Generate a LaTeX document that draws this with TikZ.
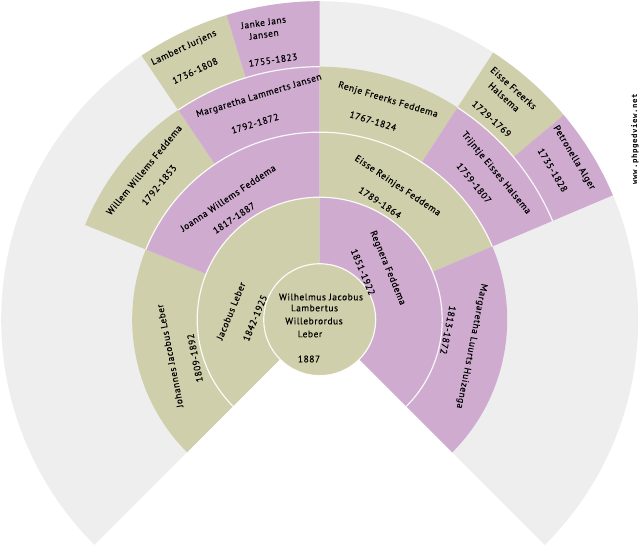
\documentclass[tikz,border=0pt]{standalone}
\usepackage{fontspec}
\setmainfont[LetterSpace=6,FakeBold=0.25]{PT Sans}
\newfontfamily\wmfont[LetterSpace=8]{DejaVu Sans Mono}
\definecolor{khaki}{HTML}{D0CFAB}
\definecolor{mauve}{HTML}{CFABD0}
\definecolor{ashgrey}{HTML}{EEEEEE}
\newcommand{\wedgeSeg}[5]{% colour, r1, r2, a, b
  \fill[#1] (#4:#2pt) arc[start angle=#4,end angle=#5,radius=#2pt] -- (#5:#3pt) arc[start angle=#5,end angle=#4,radius=#3pt] -- cycle;}
\newcommand{\rimArc}[3]{\draw[rim] (#2:#1pt) arc[start angle=#2,end angle=#3,radius=#1pt];}
\newcommand{\lbl}[5]{\node[lab,rotate=#4] (#1) at (#2pt-320pt,320pt-#3pt) {#5};}
\tikzset{
  lab/.style={font=\fontsize{9.4}{10}\selectfont,text=black,inner sep=0pt,anchor=center},
  rim/.style={draw=white,line width=1.2pt,opacity=.9},
}
\begin{document}
\begin{tikzpicture}[x=1pt,y=1pt]
\useasboundingbox (-320pt,-230pt) rectangle (320pt,320pt);
\clip (-320pt,-230pt) rectangle (320pt,320pt);
\begin{scope}[shift={(-0.3pt,0.3pt)}]
% grey background fan
\wedgeSeg{ashgrey}{56}{318.5}{-45}{225}
% generation 1
\wedgeSeg{khaki}{56}{122.5}{90}{225}
\wedgeSeg{mauve}{56}{122.5}{-45}{90}
% generation 2
\wedgeSeg{khaki}{122.5}{187.5}{158}{225}
\wedgeSeg{mauve}{122.5}{187.5}{90}{158}
\wedgeSeg{khaki}{122.5}{187.5}{23}{90}
\wedgeSeg{mauve}{122.5}{187.5}{-45}{23}
% generation 3
\wedgeSeg{khaki}{187.5}{253}{124}{158}
\wedgeSeg{mauve}{187.5}{253}{90}{124}
\wedgeSeg{khaki}{187.5}{253}{57}{90}
\wedgeSeg{mauve}{187.5}{253}{23}{57}
% generation 4
\wedgeSeg{khaki}{253}{318.5}{107}{124}
\wedgeSeg{mauve}{253}{318.5}{90}{107}
\wedgeSeg{khaki}{253}{318.5}{40}{57}
\wedgeSeg{mauve}{253}{318.5}{23}{40}
% centre
\fill[khaki] (0,0) circle[radius=56pt];
\draw[rim] (0,0) circle[radius=56pt];
% separators
\rimArc{122.5}{-45}{225}
\rimArc{187.5}{23}{158}
\rimArc{253}{90}{124}
\rimArc{253}{23}{57}
\end{scope}
% centre text
\lbl{w1}{321}{297}{0}{Wilhelmus Jacobus}
\lbl{w2}{314.5}{308}{0}{Lambertus}
\lbl{w3}{314}{321}{0}{Willebrordus}
\lbl{w4}{310}{334}{0}{Leber}
\lbl{w5}{309}{359}{0}{1887}
% gen 1
\lbl{jl}{231}{311}{67.5}{Jacobus Leber}
\lbl{jld}{255}{318}{67.5}{1842-1925}
\lbl{rf}{387.5}{268}{-67.5}{Regnera Feddema}
\lbl{rfd}{363}{272}{-67.5}{1851-1922}
% gen 2
\lbl{jj}{170}{356}{101.25}{Johannes Jacobus Leber}
\lbl{jjd}{195}{358}{101.25}{1809-1892}
\lbl{jw}{228}{198}{33.75}{Joanna Willems Feddema}
\lbl{jwd}{234}{218}{33.75}{1817-1887}
\lbl{er}{397.5}{186}{-33.75}{Eisse Reinjes Feddema}
\lbl{erd}{380}{202.5}{-33.75}{1789-1864}
\lbl{ml}{471.5}{346}{-101.25}{Margaretha Luurts Huizenga}
\lbl{mld}{448}{330}{-101.25}{1813-1872}
% gen 3
\lbl{ww}{144}{170}{50.625}{Willem Willems Feddema}
\lbl{wwd}{159}{185}{50.625}{1792-1853}
\lbl{mj}{259}{96}{16.875}{Margaretha Lammerts Jansen}
\lbl{mjd}{255}{123.5}{16.875}{1792-1872}
\lbl{rj}{388}{100}{-16.875}{Renje Freerks Feddema}
\lbl{rjd}{373}{121}{-16.875}{1767-1824}
\lbl{te}{496}{173}{-50.625}{Trijntje Eisses Halsema}
\lbl{ted}{474}{183}{-50.625}{1759-1807}
% gen 4
\lbl{lj}{184}{48}{25.3}{Lambert Jurjens}
\lbl{ljd}{195}{70.8}{25.3}{1736-1808}
\lbl{ja}{263.5}{22.5}{8.4}{Janke Jans}
\lbl{jb}{264}{34.5}{8.4}{Jansen}
\lbl{jad}{273}{60}{8.4}{1755-1823}
\lbl{ea}{513.7}{88}{-42.2}{Eisse Freerks}
\lbl{eb}{504}{97}{-42.2}{Halsema}
\lbl{ead}{491.7}{118.7}{-42.2}{1729-1769}
\lbl{pa}{574}{157.7}{-59.06}{Petronella Alger}
\lbl{pad}{552.7}{170}{-59.06}{1735-1828}
% watermark
\node[lab,rotate=90,font=\wmfont\bfseries\fontsize{7.4}{9}\selectfont,text=black] (wm) at (635pt-320pt,320pt-139pt) {www.phpgedview.net};
\end{tikzpicture}
\end{document}
